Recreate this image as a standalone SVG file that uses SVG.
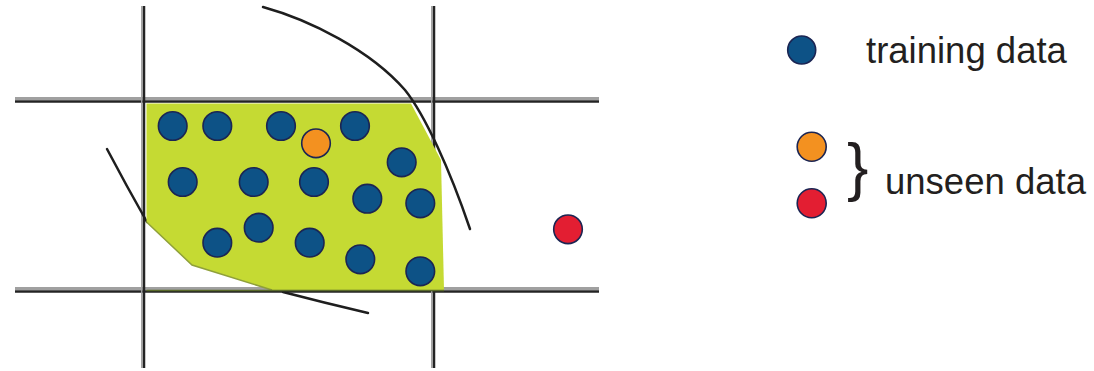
<svg xmlns="http://www.w3.org/2000/svg" width="1094" height="371" viewBox="0 0 1094 371">
<style>
.grey{stroke:#a0a0a0;stroke-width:3;fill:none}
.line{stroke:#232323;stroke-width:2.5;fill:none}
.arc{stroke:#1e1e1e;stroke-width:2.5;fill:none;stroke-linecap:round}
.train{fill:#0d5286;stroke:#1b2553;stroke-width:1.6}
.orange{fill:#f39120;stroke:#1b2553;stroke-width:1.6}
.red{fill:#e31e32;stroke:#1b2553;stroke-width:1.6}
.lbl{font-family:"Liberation Sans",Arial,sans-serif;font-size:36.5px;fill:#231f20}
</style>
<rect width="1094" height="371" fill="#ffffff"/>
<g id="grid">
<line class="grey" x1="15" y1="98.5" x2="599" y2="98.5"/>
<line class="line" x1="15" y1="101.5" x2="599" y2="101.5"/>
<line class="grey" x1="15" y1="288.5" x2="599" y2="288.5"/>
<line class="line" x1="15" y1="291.5" x2="599" y2="291.5"/>
<line class="grey" x1="141.8" y1="6" x2="141.8" y2="368" style="stroke-width:1.5"/>
<line class="line" x1="144" y1="6" x2="144" y2="368"/>
<line class="grey" x1="431.8" y1="6" x2="431.8" y2="368" style="stroke-width:1.5"/>
<line class="line" x1="434" y1="6" x2="434" y2="368"/>
</g>
<g id="lower-boundary">
<path class="arc" d="M107,149 Q126,185 147,222"/>
<path class="arc" d="M283,292 Q325,303 368,313"/>
</g>
<g id="region">
<polygon points="146.5,103.5 411,103.5 441,160 444,290 272,290 192,265 146.5,222" fill="#c5da33"/>
<polyline points="146.5,222 192,265 272,290" fill="none" stroke="#8fa03a" stroke-width="1.5"/>
<line x1="146.5" y1="290.5" x2="444" y2="290.5" stroke="#5a6a2a" stroke-width="1.5"/>
</g>
<g id="upper-boundary">
<path class="arc" d="M263,7 C310,20 370,50 405,90 C425,115 450,170 470,229"/>
</g>
<g id="training-points">
<circle class="train" cx="172.7" cy="126" r="14.3"/>
<circle class="train" cx="217.3" cy="126" r="14.3"/>
<circle class="train" cx="281" cy="126" r="14.3"/>
<circle class="train" cx="355" cy="126" r="14.3"/>
<circle class="train" cx="401.7" cy="162.3" r="14.3"/>
<circle class="train" cx="182.7" cy="182" r="14.3"/>
<circle class="train" cx="253.7" cy="182" r="14.3"/>
<circle class="train" cx="314" cy="182" r="14.3"/>
<circle class="train" cx="367.3" cy="198.7" r="14.3"/>
<circle class="train" cx="420.3" cy="203.3" r="14.3"/>
<circle class="train" cx="258.7" cy="227.7" r="14.3"/>
<circle class="train" cx="217.3" cy="242.7" r="14.3"/>
<circle class="train" cx="309.7" cy="242.7" r="14.3"/>
<circle class="train" cx="360.3" cy="259.3" r="14.3"/>
<circle class="train" cx="420.3" cy="271.3" r="14.3"/>
</g>
<g id="unseen-points">
<circle class="orange" cx="316" cy="143.3" r="14.3"/>
<circle class="red" cx="568" cy="229.3" r="14.3"/>
</g>
<g id="legend-training">
<circle class="train" cx="801.7" cy="50" r="14"/>
<text class="lbl" x="866" y="63">training data</text>
</g>
<g id="legend-unseen">
<circle class="orange" cx="811.7" cy="146.7" r="14.5"/>
<circle class="red" cx="811.7" cy="203.3" r="14.5"/>
<text class="lbl" x="847" y="189" style="font-size:64px">}</text>
<text class="lbl" x="885" y="194">unseen data</text>
</g>
</svg>
